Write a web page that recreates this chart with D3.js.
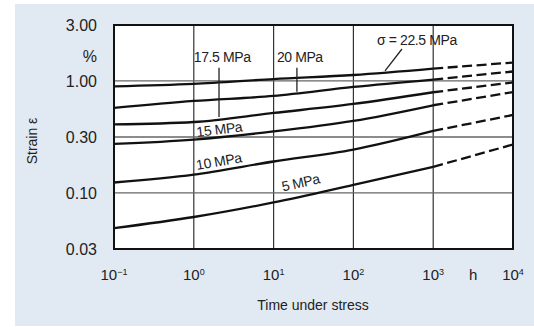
<!DOCTYPE html>
<html>
<head>
<meta charset="utf-8">
<script src="https://cdn.jsdelivr.net/npm/d3@7"></script>
<style>
    body { margin: 0; background: #fff; }
    svg { display: block; }
    text { font-family: "Liberation Sans", Arial, sans-serif; fill: #222; }
</style>
</head>
<body>
<div id="chart"></div>
<script>
// Creep strain vs time
const times = [0.1, 1, 10, 100, 1000, 10000];
const stressLevels = ['22.5', '20', '17.5', '15', '10', '5'];
const strain225 = [0.893, 0.94, 1.04, 1.13, 1.29, 1.46];
const strain20 = [0.574, 0.663, 0.735, 0.884, 1.03, 1.215];
const strain175 = [0.409, 0.43, 0.518, 0.623, 0.793, 0.97];
const strain15 = [0.274, 0.30, 0.354, 0.44, 0.607, 0.795];
const strain10 = [0.124, 0.146, 0.191, 0.244, 0.358, 0.497];
const strain5 = [0.0485, 0.061, 0.0823, 0.118, 0.171, 0.271];
const measuredUntil = 1000; // solid up to here, extrapolated (dashed) after

const xTickValues = [0.1, 1, 10, 100, 1000, 10000];
const xTickExponents = ['-1', '0', '1', '2', '3', '4'];
const yTickValues = [0.0316, 0.1, 0.316, 1, 3.16];
const yTickLabels = ['0.03', '0.10', '0.30', '1.00', '3.00'];

// label anchors in data units
const curveLabels = [
    { text: '15 MPa', t: 1.1, v: 0.316, rot: -7 },
    { text: '10 MPa', t: 1.1, v: 0.160, rot: -10 },
    { text: '5 MPa', t: 13.1, v: 0.1028, rot: -13 }
];
const leaderLabels = [
    { text: '17.5 MPa', t: 1.0, v: 1.48, x1: 2.07, y1: 1.31, x2: 2.07, y2: 0.477 },
    { text: '20 MPa', t: 11.0, v: 1.48, x1: 19.6, y1: 1.31, x2: 19.6, y2: 0.80 },
    { text: '\u03c3 = 22.5 MPa', t: 198, v: 2.1, x1: 406, y1: 1.93, x2: 249, y2: 1.23 }
];

class CreepChart {
    constructor(containerId) {
        this.containerId = containerId;
        this.width = 534;
        this.height = 327;
        this.plot = { left: 114, right: 513, top: 25, bottom: 249 };
    }

    init() {
        d3.select(`#${this.containerId} svg`).remove();
        this.svg = d3.select(`#${this.containerId}`)
            .append('svg')
            .attr('width', this.width)
            .attr('height', this.height);

        // light blue panel behind everything
        this.svg.append('rect')
            .attr('x', 15).attr('y', 4)
            .attr('width', this.width - 15).attr('height', 322)
            .attr('fill', '#e1eaf3');

        this.x = d3.scaleLog().domain([0.1, 10000]).range([this.plot.left, this.plot.right]);
        this.y = d3.scaleLog().domain([0.0316, 3.16]).range([this.plot.bottom, this.plot.top]);
    }

    draw() {
        if (!this.svg) this.init();
        const x = this.x, y = this.y, p = this.plot;

        this.svg.append('rect')
            .attr('x', p.left).attr('y', p.top)
            .attr('width', p.right - p.left).attr('height', p.bottom - p.top)
            .attr('fill', '#fff');

        // grid
        const grid = this.svg.append('g').attr('class', 'grid');
        grid.selectAll('line.v')
            .data(xTickValues.slice(1, -1))
            .enter().append('line')
            .attr('x1', d => x(d)).attr('x2', d => x(d))
            .attr('y1', p.top).attr('y2', p.bottom)
            .attr('stroke', '#333').attr('stroke-width', 1.2);
        grid.selectAll('line.h')
            .data(yTickValues.slice(1, -1))
            .enter().append('line')
            .attr('x1', p.left).attr('x2', p.right)
            .attr('y1', d => y(d)).attr('y2', d => y(d))
            .attr('stroke', '#666').attr('stroke-width', 1.3);

        // curves
        const series = [strain225, strain20, strain175, strain15, strain10, strain5];
        const line = d3.line()
            .x(d => x(d.t))
            .y(d => y(d.v))
            .curve(d3.curveMonotoneX);
        const curves = this.svg.append('g').attr('class', 'curves');
        series.forEach((vals, i) => {
            const pts = times.map((t, j) => ({ t: t, v: vals[j] }));
            curves.append('path')
                .datum(pts.filter(d => d.t <= measuredUntil))
                .attr('class', `curve stress-${stressLevels[i]}`)
                .attr('d', line)
                .attr('fill', 'none').attr('stroke', '#111').attr('stroke-width', 2.3);
            curves.append('path')
                .datum(pts.filter(d => d.t >= measuredUntil))
                .attr('d', line)
                .attr('fill', 'none').attr('stroke', '#111').attr('stroke-width', 2.3)
                .attr('stroke-dasharray', '10,4.5');
        });

        // frame
        this.svg.append('rect')
            .attr('x', p.left).attr('y', p.top)
            .attr('width', p.right - p.left).attr('height', p.bottom - p.top)
            .attr('fill', 'none').attr('stroke', '#111').attr('stroke-width', 2);

        // y axis labels
        const yAxis = this.svg.append('g')
            .attr('transform', `translate(${p.left},0)`)
            .call(d3.axisLeft(y).tickValues(yTickValues)
                .tickFormat((d, i) => yTickLabels[i])
                .tickSize(0).tickPadding(17));
        yAxis.select('.domain').remove();
        yAxis.selectAll('text')
            .style('font-size', '16px')
            .style('font-family', '"Liberation Sans", Arial, sans-serif')
            .attr('fill', '#333');

        this.svg.append('text')
            .attr('x', p.left - 17).attr('y', y(1.65))
            .attr('dy', '0.35em')
            .attr('text-anchor', 'end')
            .style('font-size', '16px').attr('fill', '#333')
            .text('%');

        // x axis labels with superscript exponents
        const xl = this.svg.append('g').attr('class', 'x-labels');
        const lbl = xl.selectAll('text')
            .data(xTickValues)
            .enter().append('text')
            .attr('x', d => x(d))
            .attr('y', 280)
            .attr('text-anchor', 'middle')
            .style('font-size', '15px').attr('fill', '#333');
        lbl.append('tspan').text('10');
        lbl.append('tspan')
            .attr('dy', -5)
            .style('font-size', '9px')
            .text((d, i) => xTickExponents[i].replace('-', '\u2212'));

        this.svg.append('text')
            .attr('x', x(Math.sqrt(1000 * 10000))).attr('y', 280)
            .attr('text-anchor', 'middle')
            .style('font-size', '15px').attr('fill', '#333')
            .text('h');

        this.svg.append('text')
            .attr('x', 313).attr('y', 310)
            .attr('text-anchor', 'middle')
            .style('font-size', '14px').attr('fill', '#333')
            .text('Time under stress');

        this.svg.append('text')
            .attr('transform', 'translate(37,141) rotate(-90)')
            .attr('text-anchor', 'middle')
            .style('font-size', '14px').attr('fill', '#333')
            .text('Strain \u03b5');

        // labels sitting on the curves
        this.svg.append('g').selectAll('text')
            .data(curveLabels)
            .enter().append('text')
            .attr('transform', d => `translate(${x(d.t)},${y(d.v)}) rotate(${d.rot})`)
            .style('font-size', '14px').style('letter-spacing', '-0.4px')
            .text(d => d.text);

        // labels with leader lines
        const lead = this.svg.append('g');
        lead.selectAll('line')
            .data(leaderLabels)
            .enter().append('line')
            .attr('x1', d => x(d.x1)).attr('y1', d => y(d.y1))
            .attr('x2', d => x(d.x2)).attr('y2', d => y(d.y2))
            .attr('stroke', '#222').attr('stroke-width', 1.3);
        lead.selectAll('text')
            .data(leaderLabels)
            .enter().append('text')
            .attr('x', d => x(d.t)).attr('y', d => y(d.v))
            .style('font-size', '14px').style('letter-spacing', '-0.4px')
            .text(d => d.text);
    }
}

const chart = new CreepChart('chart');
chart.init();
chart.draw();
</script>
</body>
</html>
